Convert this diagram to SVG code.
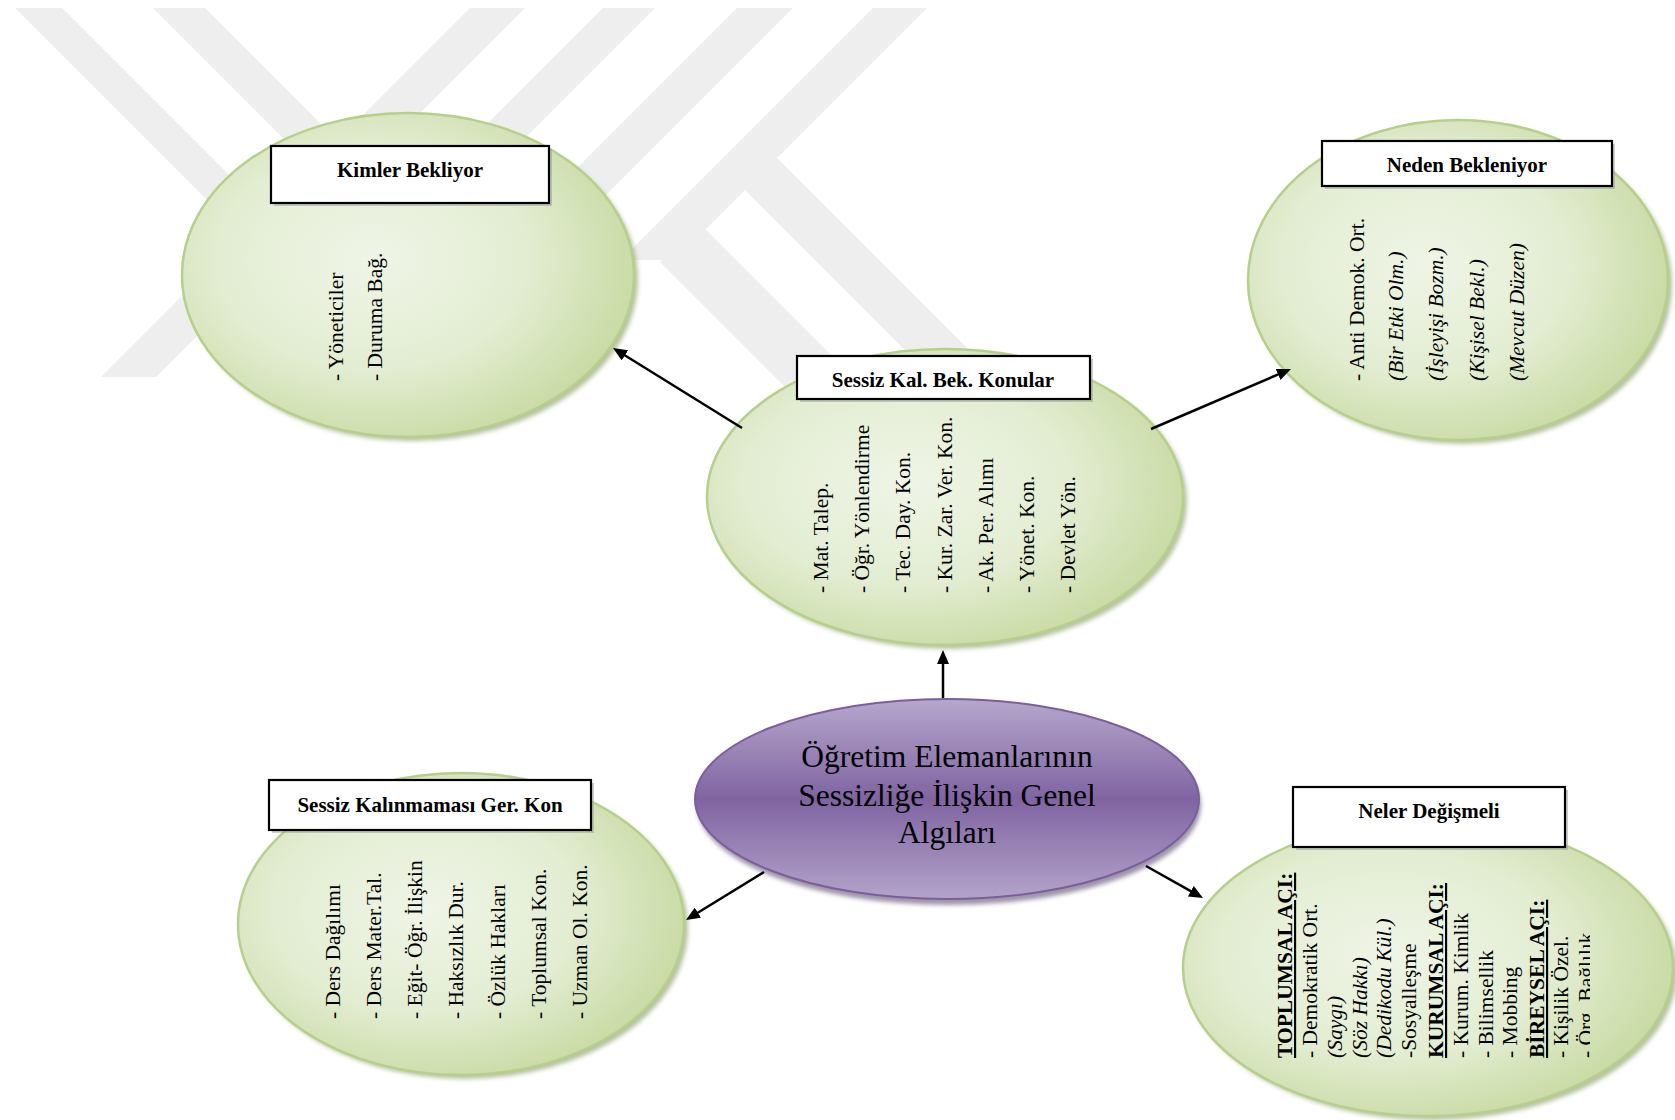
<svg xmlns="http://www.w3.org/2000/svg" width="1675" height="1120" viewBox="0 0 1675 1120">
<defs>
  <radialGradient id="gGreen" cx="0.42" cy="0.45" r="0.62">
    <stop offset="0" stop-color="#eff5e7"/>
    <stop offset="0.55" stop-color="#e3edd2"/>
    <stop offset="1" stop-color="#c6d9a0"/>
  </radialGradient>
  <linearGradient id="gPurple" x1="0" y1="0" x2="0" y2="1">
    <stop offset="0" stop-color="#b6a7cc"/>
    <stop offset="0.5" stop-color="#8064a2"/>
    <stop offset="1" stop-color="#b3a3c9"/>
  </linearGradient>
  <filter id="blur" x="-10%" y="-10%" width="120%" height="120%">
    <feGaussianBlur stdDeviation="2"/>
  </filter>
  <marker id="arr" markerUnits="userSpaceOnUse" markerWidth="14" markerHeight="12" refX="4" refY="6" orient="auto">
    <path d="M0,0 L14,6 L0,12 z" fill="#000"/>
  </marker>
  <clipPath id="clipNeler"><rect x="1180" y="820" width="410" height="300"/></clipPath>
</defs>
<style>
  .wm{fill:#eeeeee}
  .ell{fill:url(#gGreen);stroke:#b7cf8b;stroke-width:2.5}
  .sh{fill:#9daf80;opacity:.75;filter:url(#blur)}
  .box{fill:#fff;stroke:#000;stroke-width:2.2}
  .bsh{fill:#999;opacity:.5}
  .bt{font-family:"Liberation Serif","Times New Roman",serif;font-weight:bold;font-size:21px;text-anchor:middle;fill:#000}
  .vt{font-family:"Liberation Serif","Times New Roman",serif;font-size:21.5px;fill:#000}
  .it{font-style:italic}
  .hd{font-weight:bold;text-decoration:underline}
  .ct{font-family:"Liberation Serif","Times New Roman",serif;font-size:31.5px;text-anchor:middle;fill:#000}
  .conn{stroke:#000;stroke-width:2.5;fill:none;marker-end:url(#arr)}
</style>
<rect width="1675" height="1120" fill="#fff"/>

<g id="watermark">
  <polygon class="wm" points="15,8 62,8 334,280 287,280"/>
  <polygon class="wm" points="153,8 205,8 427,230 375,230"/>
  <polygon class="wm" points="470,8 525,8 156,377 101,377"/>
  <polygon class="wm" points="603,8 655,8 403,260 351,260"/>
  <polygon class="wm" points="737,8 793,8 541,260 485,260"/>
  <polygon class="wm" points="873,8 927,8 675,260 621,260"/>
  <polygon class="wm" points="660,262 703,227 918,442 875,477"/>
  <polygon class="wm" points="745,190 777,158 1000,381 968,413"/>
</g>

<g id="node-kimler">
  <ellipse class="sh" cx="412" cy="279" rx="226" ry="162"/>
  <ellipse class="ell" cx="408" cy="275" rx="226" ry="162"/>
  <rect class="bsh" x="274" y="149" width="278" height="57"/>
  <rect class="box" x="271" y="146" width="278" height="57"/>
  <text class="bt" x="410" y="177">Kimler Bekliyor</text>
  <text class="vt" transform="translate(343,381) rotate(-90)">- Yöneticiler</text>
  <text class="vt" transform="translate(382,381) rotate(-90)">- Duruma Bağ.</text>
</g>

<g id="node-neden">
  <ellipse class="sh" cx="1462" cy="284" rx="210" ry="160"/>
  <ellipse class="ell" cx="1458" cy="280" rx="210" ry="160"/>
  <rect class="bsh" x="1325" y="144" width="290" height="45"/>
  <rect class="box" x="1322" y="141" width="290" height="45"/>
  <text class="bt" x="1467" y="172">Neden Bekleniyor</text>
  <text class="vt" transform="translate(1364,381) rotate(-90)">- Anti Demok. Ort.</text>
  <text class="vt it" transform="translate(1403,381) rotate(-90)">(Bir Etki Olm.)</text>
  <text class="vt it" transform="translate(1443,381) rotate(-90)">(İşleyişi Bozm.)</text>
  <text class="vt it" transform="translate(1484,381) rotate(-90)">(Kişisel Bekl.)</text>
  <text class="vt it" transform="translate(1524,381) rotate(-90)">(Mevcut Düzen)</text>
</g>

<g id="node-konular">
  <ellipse class="sh" cx="949" cy="501" rx="238" ry="148"/>
  <ellipse class="ell" cx="945" cy="497" rx="238" ry="148"/>
  <rect class="bsh" x="800" y="359" width="293" height="43"/>
  <rect class="box" x="797" y="356" width="293" height="43"/>
  <text class="bt" x="943" y="387">Sessiz Kal. Bek. Konular</text>
  <text class="vt" transform="translate(828,593) rotate(-90)">- Mat. Talep.</text>
  <text class="vt" transform="translate(869,593) rotate(-90)">- Öğr. Yönlendirme</text>
  <text class="vt" transform="translate(910,593) rotate(-90)">- Tec. Day. Kon.</text>
  <text class="vt" transform="translate(952,593) rotate(-90)">- Kur. Zar. Ver. Kon.</text>
  <text class="vt" transform="translate(993,593) rotate(-90)">- Ak. Per. Alımı</text>
  <text class="vt" transform="translate(1034,593) rotate(-90)">- Yönet. Kon.</text>
  <text class="vt" transform="translate(1075,593) rotate(-90)">- Devlet Yön.</text>
</g>

<g id="node-center">
  <ellipse cx="949" cy="805" rx="252" ry="100" fill="#5e4d70" opacity=".6" filter="url(#blur)"/>
  <ellipse cx="947" cy="799" rx="252" ry="100" fill="url(#gPurple)" stroke="#7b5f9c" stroke-width="2"/>
  <text class="ct" x="947" y="767">Öğretim Elemanlarının</text>
  <text class="ct" x="947" y="806">Sessizliğe İlişkin Genel</text>
  <text class="ct" x="947" y="843">Algıları</text>
</g>

<g id="node-gereken">
  <ellipse class="sh" cx="465" cy="928" rx="223" ry="151"/>
  <ellipse class="ell" cx="461" cy="924" rx="223" ry="151"/>
  <rect class="bsh" x="272" y="783" width="322" height="50"/>
  <rect class="box" x="269" y="780" width="322" height="50"/>
  <text class="bt" x="430" y="812">Sessiz Kalınmaması Ger. Kon</text>
  <text class="vt" transform="translate(340,1019) rotate(-90)">- Ders Dağılımı</text>
  <text class="vt" transform="translate(381,1019) rotate(-90)">- Ders Mater.Tal.</text>
  <text class="vt" transform="translate(422,1019) rotate(-90)">- Eğit- Öğr. İlişkin</text>
  <text class="vt" transform="translate(463,1019) rotate(-90)">- Haksızlık Dur.</text>
  <text class="vt" transform="translate(505,1019) rotate(-90)">- Özlük Hakları</text>
  <text class="vt" transform="translate(546,1019) rotate(-90)">- Toplumsal Kon.</text>
  <text class="vt" transform="translate(587,1019) rotate(-90)">- Uzman Ol. Kon.</text>
</g>

<g id="node-neler">
  <ellipse class="sh" cx="1432" cy="972" rx="245" ry="148"/>
  <ellipse class="ell" cx="1428" cy="968" rx="245" ry="148"/>
  <rect class="bsh" x="1296" y="790" width="272" height="60"/>
  <rect class="box" x="1293" y="787" width="272" height="60"/>
  <text class="bt" x="1429" y="818">Neler Değişmeli</text>
  <g clip-path="url(#clipNeler)">
    <text class="vt hd" transform="translate(1292,1058) rotate(-90)">TOPLUMSAL AÇI:</text>
    <text class="vt" transform="translate(1317,1058) rotate(-90)">- Demokratik Ort.</text>
    <text class="vt it" transform="translate(1342,1058) rotate(-90)">(Saygı)</text>
    <text class="vt it" transform="translate(1367,1058) rotate(-90)">(Söz Hakkı)</text>
    <text class="vt it" transform="translate(1391,1058) rotate(-90)">(Dedikodu Kül.)</text>
    <text class="vt" transform="translate(1416,1058) rotate(-90)">-Sosyalleşme</text>
    <text class="vt hd" transform="translate(1443,1058) rotate(-90)">KURUMSAL AÇI:</text>
    <text class="vt" transform="translate(1468,1058) rotate(-90)">- Kurum. Kimlik</text>
    <text class="vt" transform="translate(1493,1058) rotate(-90)">- Bilimsellik</text>
    <text class="vt" transform="translate(1517,1058) rotate(-90)">- Mobbing</text>
    <text class="vt hd" transform="translate(1544,1058) rotate(-90)">BİREYSEL AÇI:</text>
    <text class="vt" transform="translate(1568,1058) rotate(-90)">- Kişilik Özel.</text>
    <text class="vt" transform="translate(1593,1058) rotate(-90)">- Örg. Bağlılık</text>
  </g>
</g>

<g id="connectors">
  <line class="conn" x1="742" y1="428" x2="621.5" y2="353.3"/>
  <line class="conn" x1="1151" y1="429" x2="1281.8" y2="372.9"/>
  <line class="conn" x1="943" y1="698" x2="943" y2="660"/>
  <line class="conn" x1="764" y1="872" x2="694.5" y2="914.8"/>
  <line class="conn" x1="1146" y1="866" x2="1194.3" y2="893.1"/>
</g>
</svg>
